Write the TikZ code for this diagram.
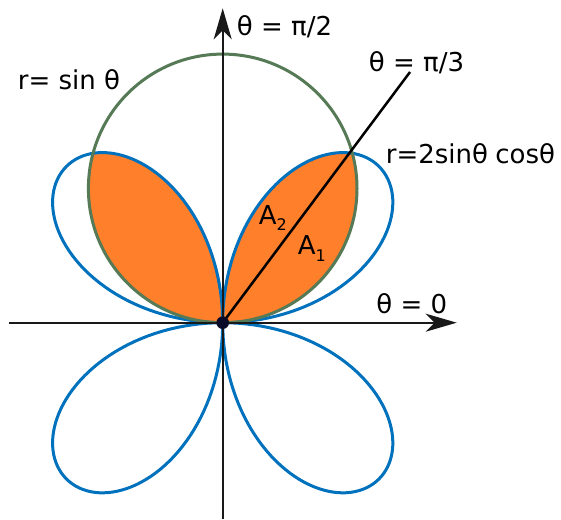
\documentclass[tikz,border=0pt]{standalone}
\usepackage{fontspec}
\setmainfont{DejaVu Sans}
\usetikzlibrary{arrows.meta}
\definecolor{roseblue}{RGB}{0,113,188}
\definecolor{circgreen}{RGB}{85,122,85}
\definecolor{areaorange}{RGB}{255,127,42}
\definecolor{dotnavy}{RGB}{10,10,40}
\begin{document}
\begin{tikzpicture}[
    x=1pt, y=1pt,
    lbl/.style={font=\fontsize{26}{30}\selectfont, inner sep=0pt},
    axis/.style={-{Stealth[length=31pt, width=18pt, inset=9pt]}, line width=2pt, draw=black!90},
    rose/.style={draw=roseblue, line width=3pt},
    circ/.style={draw=circgreen, line width=3pt},
    ray/.style={draw=black, line width=2.5pt}
]
    \useasboundingbox (-222.7,-196.3) rectangle (338.3,322.7);

    % Points on the axes
    \coordinate (O) at (0,0);
    \coordinate (Xl) at (-213.7,0);
    \coordinate (Xr) at (234,0);
    \coordinate (Yb) at (0,-196.3);
    \coordinate (Yt) at (0,314.4);
    \coordinate (C) at (0,134.3);
    \coordinate (L) at (187.3,250.7);

    % Shaded areas A1, A2 and their mirror
    \begin{scope}
        \clip (C) circle (134.3pt);
        \fill[areaorange] plot[domain=0:180, samples=181] (\x:{221*abs(sin(2*\x))}) -- cycle;
    \end{scope}

    % Curves
    \draw[rose] plot[domain=0:360, samples=361] (\x:{221*abs(sin(2*\x))}) -- cycle;
    \draw[circ] (C) circle (134.3pt);

    % Axes and the ray
    \draw[axis] (Xl) -- (Xr);
    \draw[axis] (Yb) -- (Yt);
    \draw[ray] (O) -- (L);
    \fill[dotnavy] (O) circle (6.3pt);

    % Labels
    \node[lbl, anchor=base west] (t90) at (14,287.5) {θ = π/2};
    \node[lbl, anchor=base west] (t60) at (146,251) {θ = π/3};
    \node[lbl, anchor=base west] (rsin) at (-205,232.7) {r= sin θ};
    \node[lbl, anchor=base west] (rrose) at (163,159.4) {r=2sinθ\kern-1pt\ cosθ};
    \node[lbl, anchor=base west] (t0) at (153.5,9.2) {θ = 0};
    \node[lbl, anchor=base west] (a2) at (36,97.7) {A\raisebox{-6pt}{\fontsize{16}{16}\selectfont 2}};
    \node[lbl, anchor=base west] (a1) at (75,67.7) {A\raisebox{-6pt}{\fontsize{16}{16}\selectfont 1}};
\end{tikzpicture}
\end{document}
